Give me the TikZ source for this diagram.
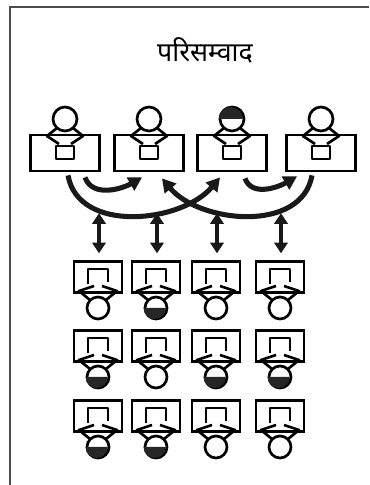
\documentclass[tikz,border=0pt]{standalone}
\usepackage{fontspec}
\newfontfamily\devfont[Script=Devanagari]{Noto Sans}
\usetikzlibrary{arrows.meta,calc}

\begin{document}
\begin{tikzpicture}[
				x=0.75pt,y=0.75pt,
				desk/.style={draw,rectangle,line width=2.1pt,inner sep=0pt},
				tdesk/.style={desk,minimum width=52pt,minimum height=27pt},
				sdesk/.style={desk,minimum width=36pt,minimum height=23pt},
				head/.style={draw,circle,line width=2pt,inner sep=0pt,minimum size=#1},
				body/.style={line width=2pt,line join=round},
				hair/.style={fill=black!85},
				tarrow/.style={-{Triangle[length=10pt,width=11pt]},line width=3.8pt,black!90},
				dblarrow/.style={{Triangle[length=8pt,width=10pt]}-{Triangle[length=8pt,width=10pt]},line width=3pt,black!90}
				]
				\useasboundingbox (0,0) rectangle (369,485);
				
				% frame
				\draw[gray!60!black,line width=1pt] (10,0) -- (10,478) -- (369,478);
				
				% title
				\node[font=\devfont\fontsize{20}{24}\selectfont] (title) at (205,435) {परिसम्वाद};
				
				% teachers
				\foreach \i/\x in {1/65,2/149,3/232,4/321}{
					\begin{scope}[shift={(\x,332)}]
						\node[tdesk] (t\i) at (0,0) {};
						\node[head=18pt] (th\i) at (0,34) {};
						\draw[body] (-8,25) -- (-18,17) -- (-6,9) (8,25) -- (18,17) -- (6,9);
						\draw[body] (-9,7) rectangle (9,-6);
					\end{scope}
				}
				\fill[hair] (th3.west) arc[start angle=180,end angle=0,radius=9pt] -- cycle;
				
				% students
				\foreach \r/\y in {1/208,2/139,3/69}{
					\foreach \c/\x in {1/98,2/156,3/216,4/280}{
						\begin{scope}[shift={(\x,\y)}]
							\node[sdesk] (s\r\c) at (0,0) {};
							\node[head=16.5pt] (sh\r\c) at (0,-31) {};
							\draw[body] (-10,-7) -- (-10,8) -- (10,8) -- (10,-5);
							\draw[body] (-8,-23) -- (-19,-14) -- (-4,-9) (8,-23) -- (19,-14) -- (4,-9);
						\end{scope}
					}
				}
				\foreach \h in {12,21,23,24,31,32}
					\fill[hair] (sh\h.west) arc[start angle=180,end angle=360,radius=8.25pt] -- cycle;
				
				% teacher to teacher
				\draw[tarrow] ($(t1.south)+(20,-5)$) to[out=-70,in=-150] ($(t2.south)+(-7,-5)$);
				\draw[tarrow] ($(t1.south)+(3,-3)$) to[out=-80,in=-130] ($(t3.south)+(-12,-5)$);
				\draw[tarrow] ($(t4.south)+(-9,-3)$) to[out=-100,in=-50] ($(t2.south)+(13,-6)$);
				\draw[tarrow] ($(t3.south)+(13,-6)$) to[out=-70,in=-150] ($(t4.south)+(-24,-4)$);
				
				% teacher <-> students
				\foreach \c in {1,...,4}
					\draw[dblarrow] ($(s1\c.north)+(1,7)$) -- ($(s1\c.north)+(1,47)$);
				
			\end{tikzpicture}
\end{document}
